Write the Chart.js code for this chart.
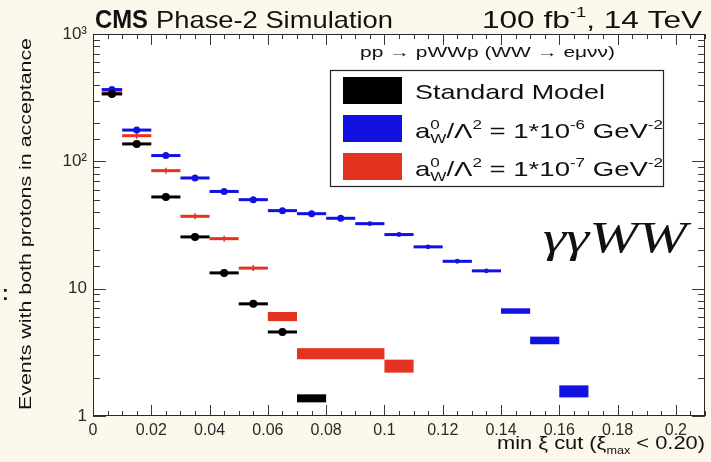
<!DOCTYPE html>
<html>
<head>
<meta charset="utf-8">
<script src="https://cdn.jsdelivr.net/npm/chart.js@4.4.1/dist/chart.umd.min.js"></script>
<style>
html, body { margin: 0; padding: 0; background: #fcf8ec; }
</style>
</head>
<body>
<canvas id="myChart" width="711" height="462"></canvas>
<script>
// Standard Model
var smLo  = [0.003, 0.01, 0.02, 0.03, 0.04, 0.05, 0.06, 0.07];
var smHi  = [0.01, 0.02, 0.03, 0.04, 0.05, 0.06, 0.07, 0.08];
var smVal = [338, 137, 52.5, 25.5, 13.3, 7.6, 4.57, 1.38];
var smErr = [0, 0, 0, 0, 0, 0, 0, 0.1];

// a0W/L^2 = 1e-6 GeV^-2
var aw6Lo  = [0.003, 0.01, 0.02, 0.03, 0.04, 0.05, 0.06, 0.07, 0.08, 0.09, 0.10, 0.11, 0.12, 0.13, 0.14, 0.15, 0.16];
var aw6Hi  = [0.01, 0.02, 0.03, 0.04, 0.05, 0.06, 0.07, 0.08, 0.09, 0.10, 0.11, 0.12, 0.13, 0.14, 0.15, 0.16, 0.17];
var aw6Val = [366, 176, 111, 74, 58, 50, 41, 38.8, 35.7, 32.4, 26.6, 21.3, 16.4, 13.8, 6.68, 3.93, 1.57];
var aw6Err = [0, 0, 0, 0, 0, 0, 0, 0, 0, 0, 0, 0, 0, 0, 0.33, 0.27, 0.17];

// a0W/L^2 = 1e-7 GeV^-2
var aw7Lo  = [0.003, 0.01, 0.02, 0.03, 0.04, 0.05, 0.06, 0.07, 0.10];
var aw7Hi  = [0.01, 0.02, 0.03, 0.04, 0.05, 0.06, 0.07, 0.10, 0.11];
var aw7Val = [345, 159, 84.5, 37, 24.7, 14.5, 6.06, 3.1, 2.48];
var aw7Err = [0, 0, 0, 0, 0, 0, 0.5, 0.31, 0.29];

// tick labels
var xTickValues = [0, 0.02, 0.04, 0.06, 0.08, 0.1, 0.12, 0.14, 0.16, 0.18, 0.2];
var xTickLabels = ['0', '0.02', '0.04', '0.06', '0.08', '0.1', '0.12', '0.14', '0.16', '0.18', '0.2'];
var yTickValues = [1, 10, 100, 1000];
var yTickLabels = ['1', '10', '10\u00B2', '10\u00B3'];

var BLUE = '#1111e2';
var RED = '#e4341f';
var BLACK = '#000000';
var SANS = '"Liberation Sans", Arial, sans-serif';

var series = [
    { lo: aw6Lo, hi: aw6Hi, val: aw6Val, err: aw6Err, color: BLUE },
    { lo: aw7Lo, hi: aw7Hi, val: aw7Val, err: aw7Err, color: RED },
    { lo: smLo, hi: smHi, val: smVal, err: smErr, color: BLACK }
];

function markers(s, label, style, radius) {
    return {
        label: label,
        data: s.lo.map(function(l, i) { return { x: (l + s.hi[i]) / 2, y: s.val[i] }; }),
        pointStyle: style,
        pointRadius: function(c) {
            if (s.err[c.dataIndex] > 0) return 0;
            return c.dataIndex > 8 ? radius * 0.7 : radius;
        },
        pointBackgroundColor: s.color,
        pointBorderColor: s.color,
        pointBorderWidth: style === 'cross' ? 1.5 : 0,
        showLine: false
    };
}

// draw text pieces (with super/subscripts), stretched to a given width
function drawRuns(c, runs, x, y, width) {
    var total = 0, stackW = 0;
    runs.forEach(function(r) {
        c.font = r.f;
        var w = c.measureText(r.t).width;
        if (r.stack) { stackW = w; }
        else { total += Math.max(w, stackW); stackW = 0; }
    });
    var sx = width ? width / total : 1;
    c.save();
    c.translate(x, y);
    c.scale(sx, 1);
    var cur = 0;
    stackW = 0;
    runs.forEach(function(r) {
        c.font = r.f;
        c.fillText(r.t, cur, r.dy || 0);
        var w = c.measureText(r.t).width;
        if (r.stack) { stackW = w; }
        else { cur += Math.max(w, stackW); stackW = 0; }
    });
    c.restore();
}

var decoPlugin = {
    id: 'deco',
    beforeDraw: function(chart) {
        var c = chart.ctx, a = chart.chartArea;
        c.save();
        c.fillStyle = '#fcf8ec';
        c.fillRect(0, 0, chart.width, chart.height);
        c.fillStyle = '#ffffff';
        c.fillRect(a.left, a.top, a.right - a.left, a.bottom - a.top);
        c.restore();
    },
    beforeDatasetsDraw: function(chart) {
        // bins as boxes (error bands) / thick lines
        var c = chart.ctx, xs = chart.scales.x, ys = chart.scales.y;
        c.save();
        series.forEach(function(s) {
            c.fillStyle = s.color;
            for (var i = 0; i < s.val.length; i++) {
                var x1 = xs.getPixelForValue(s.lo[i]);
                var x2 = xs.getPixelForValue(s.hi[i]);
                var y1 = ys.getPixelForValue(s.val[i] + s.err[i]);
                var y2 = ys.getPixelForValue(s.val[i] - s.err[i] || s.val[i]);
                var h = Math.max(y2 - y1, 3);
                var yc = (y1 + y2) / 2;
                c.fillRect(x1, yc - h / 2, x2 - x1, h);
            }
        });
        c.restore();
    },
    afterDatasetsDraw: function(chart) {
        var c = chart.ctx, a = chart.chartArea, xs = chart.scales.x, ys = chart.scales.y;
        c.save();
        c.strokeStyle = '#3a3a3a';
        c.lineWidth = 1;
        c.beginPath();
        xs.ticks.forEach(function(t) {
            var px = Math.round(xs.getPixelForValue(t.value)) + 0.5;
            var len = Math.round(t.value * 1000) % 20 === 0 ? 11 : 5;
            c.moveTo(px, a.bottom); c.lineTo(px, a.bottom - len);
            c.moveTo(px, a.top); c.lineTo(px, a.top + len);
        });
        ys.ticks.forEach(function(t) {
            var py = Math.round(ys.getPixelForValue(t.value)) + 0.5;
            var lg = Math.log10(t.value);
            var len = Math.abs(lg - Math.round(lg)) < 1e-6 ? 13 : 7;
            c.moveTo(a.left, py); c.lineTo(a.left + len, py);
            c.moveTo(a.right, py); c.lineTo(a.right - len, py);
        });
        c.stroke();
        c.strokeStyle = '#2a2a2a';
        c.strokeRect(a.left + 0.5, a.top + 0.5, a.right - a.left - 1, a.bottom - a.top - 1);
        c.restore();
    },
    afterDraw: function(chart) {
        var c = chart.ctx;
        c.save();
        c.fillStyle = '#111';
        c.textBaseline = 'alphabetic';
        c.textAlign = 'left';

        // header
        drawRuns(c, [{ t: 'CMS', f: 'bold 25px ' + SANS }], 95, 28, 53);
        drawRuns(c, [{ t: 'Phase-2 Simulation', f: '24px ' + SANS }], 156, 28, 237);
        drawRuns(c, [
            { t: '100 fb', f: '24px ' + SANS },
            { t: '-1', f: '14px ' + SANS, dy: -11 },
            { t: ', 14 TeV', f: '24px ' + SANS }
        ], 482, 28, 220);

        // process
        drawRuns(c, [{ t: 'pp \u2192 pWWp (WW \u2192 e\u03BC\u03BD\u03BD)', f: '14px ' + SANS }], 360, 57, 255);

        // legend
        c.strokeStyle = '#222';
        c.lineWidth = 1.2;
        c.strokeRect(330.5, 70.5, 333, 116);
        c.fillStyle = BLACK; c.fillRect(343, 77, 59, 27);
        c.fillStyle = BLUE; c.fillRect(343, 115, 59, 27);
        c.fillStyle = RED; c.fillRect(343, 153, 59, 27);
        c.fillStyle = '#111';
        drawRuns(c, [{ t: 'Standard Model', f: '21px ' + SANS }], 415, 99, 190);
        var coup = function(p) {
            return [
                { t: 'a', f: '21px ' + SANS },
                { t: '0', f: '13px ' + SANS, dy: -9, stack: true },
                { t: 'W', f: '13px ' + SANS, dy: 5 },
                { t: '/\u039B', f: '21px ' + SANS },
                { t: '2', f: '13px ' + SANS, dy: -9 },
                { t: ' = 1*10', f: '21px ' + SANS },
                { t: p, f: '13px ' + SANS, dy: -9 },
                { t: ' GeV', f: '21px ' + SANS },
                { t: '-2', f: '13px ' + SANS, dy: -9 }
            ];
        };
        drawRuns(c, coup('-6'), 415, 138, 248);
        drawRuns(c, coup('-7'), 415, 176, 248);

        // gamma gamma WW
        drawRuns(c, [{ t: '\u03B3\u03B3WW', f: 'italic 44px "Liberation Serif", "DejaVu Serif", serif' }], 543, 252, 144);

        // axis titles
        drawRuns(c, [
            { t: 'min \u03BE cut (\u03BE', f: '19px ' + SANS },
            { t: 'max', f: '11px ' + SANS, dy: 5 },
            { t: ' < 0.20)', f: '19px ' + SANS }
        ], 497, 449, 208);
        c.save();
        c.translate(31, 410);
        c.rotate(-Math.PI / 2);
        drawRuns(c, [{ t: 'Events with both protons in acceptance', f: '17px ' + SANS }], 0, 0, 372);
        c.restore();

        // stray colon at the slide's left edge
        c.font = 'bold 20px ' + SANS;
        c.fillText(':', 2, 300);
        c.restore();
    }
};

var ctx = document.getElementById('myChart').getContext('2d');
var chart = new Chart(ctx, {
    type: 'scatter',
    data: {
        datasets: [
            markers(series[2], 'Standard Model', 'circle', 4),
            markers(series[0], 'a0W/L2 = 1e-6', 'circle', 3.5),
            markers(series[1], 'a0W/L2 = 1e-7', 'cross', 3)
        ]
    },
    options: {
        responsive: false,
        animation: false,
        layout: { padding: { top: 34, right: 6, left: 0, bottom: 0 } },
        plugins: { legend: { display: false }, tooltip: { enabled: false } },
        scales: {
            x: {
                type: 'linear',
                min: 0,
                max: 0.21,
                grid: { display: false, drawTicks: false },
                border: { display: false },
                ticks: {
                    stepSize: 0.005,
                    autoSkip: false,
                    maxRotation: 0,
                    minRotation: 0,
                    padding: 5,
                    color: '#2a2a2a',
                    font: { family: SANS, size: 16 },
                    callback: function(v) {
                        for (var i = 0; i < xTickValues.length; i++) {
                            if (Math.abs(v - xTickValues[i]) < 1e-6) return xTickLabels[i];
                        }
                        return '';
                    }
                },
                afterFit: function(s) { s.height = 46; }
            },
            y: {
                type: 'logarithmic',
                min: 1,
                max: 1000,
                grid: { display: false, drawTicks: false },
                border: { display: false },
                ticks: {
                    autoSkip: false,
                    padding: 6,
                    color: '#2a2a2a',
                    font: { family: SANS, size: 17 },
                    callback: function(v) {
                        for (var i = 0; i < yTickValues.length; i++) {
                            if (Math.abs(v - yTickValues[i]) < 1e-6) return yTickLabels[i];
                        }
                        return '';
                    }
                },
                afterFit: function(s) { s.width = 93; }
            }
        }
    },
    plugins: [decoPlugin]
});
</script>
</body>
</html>
